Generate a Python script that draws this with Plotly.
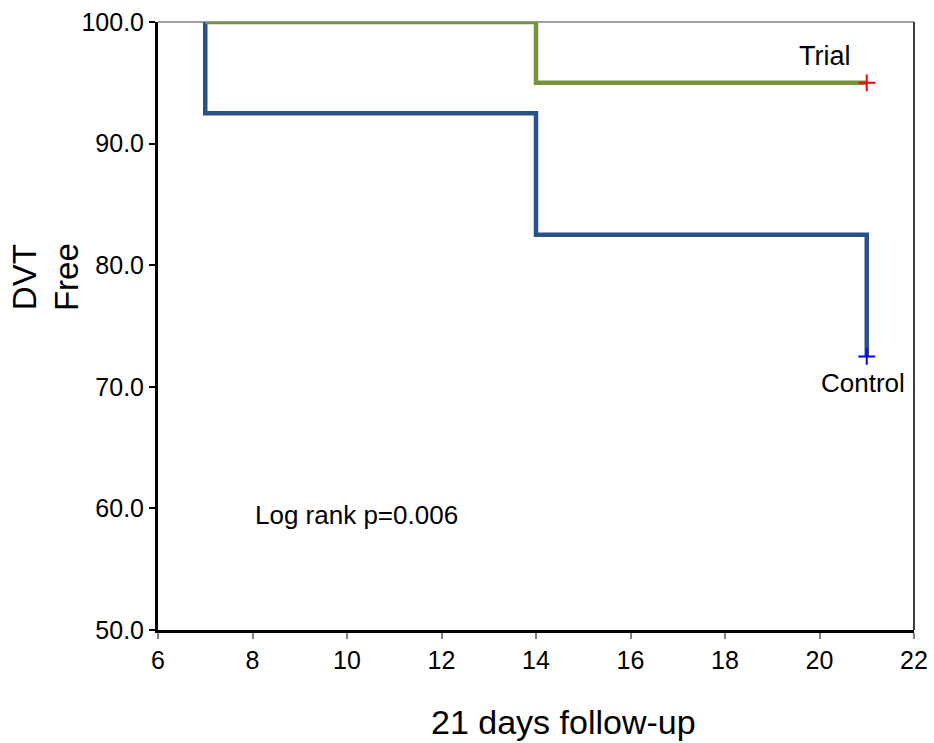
import plotly.graph_objects as go

# Data
control_days = [7, 7, 14, 14, 21, 21]
control_surv = [100, 92.5, 92.5, 82.5, 82.5, 72.5]
trial_days = [7, 14, 14, 21]
trial_surv = [100, 100, 95, 95]
censor_control = ([21], [72.5])
censor_trial = ([21], [95])
x_ticks = [6, 8, 10, 12, 14, 16, 18, 20, 22]
y_ticks = [50, 60, 70, 80, 90, 100]

FONT = "Liberation Sans, Arial, sans-serif"
GREEN = "#77933C"
BLUE = "#2A5287"

fig = go.Figure()
fig.add_trace(go.Scatter(x=control_days, y=control_surv, mode="lines",
                         line=dict(color=BLUE, width=4.5), hoverinfo="skip"))
fig.add_trace(go.Scatter(x=trial_days, y=trial_surv, mode="lines",
                         line=dict(color=GREEN, width=4.5), hoverinfo="skip"))
fig.add_trace(go.Scatter(x=censor_trial[0], y=censor_trial[1], mode="markers",
                         marker=dict(symbol="cross-thin", size=12,
                                     line=dict(color="#FF0000", width=2))))
fig.add_trace(go.Scatter(x=censor_control[0], y=censor_control[1], mode="markers",
                         marker=dict(symbol="cross-thin", size=12,
                                     line=dict(color="#0000FF", width=2))))

# borders
fig.add_shape(type="line", xref="paper", yref="paper", x0=0, x1=1, y0=1, y1=1,
              line=dict(color="#808080", width=1.5), layer="below")
fig.add_shape(type="line", xref="paper", yref="paper", x0=1, x1=1, y0=0, y1=1,
              line=dict(color="black", width=1.5), layer="below")

fig.add_annotation(x=20.12, y=97.2, text="Trial", showarrow=False,
                   font=dict(size=27, color="black", family=FONT))
fig.add_annotation(x=20.92, y=70.3, text="Control", showarrow=False,
                   font=dict(size=26, color="black", family=FONT))
fig.add_annotation(x=10.21, y=59.46, text="Log rank p=0.006", showarrow=False,
                   font=dict(size=26, color="black", family=FONT))
fig.add_annotation(xref="paper", yref="paper", x=-0.149, y=0.581,
                   xanchor="center", yanchor="middle",
                   text="DVT<br>Free", textangle=-90, showarrow=False,
                   font=dict(size=33, color="black", family=FONT))
fig.add_annotation(xref="paper", yref="paper", x=0.536, y=-0.151,
                   xanchor="center", yanchor="middle",
                   text="21 days follow-up", showarrow=False,
                   font=dict(size=34, color="black", family=FONT))

fig.update_xaxes(range=[6, 22], tickvals=x_ticks, showgrid=False, zeroline=False,
                 showline=True, linecolor="black", linewidth=3, automargin=False,
                 ticks="outside", ticklen=6, tickcolor="#808080", tickwidth=1.5,
                 ticklabeloverflow="allow",
                 tickfont=dict(size=25, color="black", family=FONT))
fig.update_yaxes(range=[50, 100], tickvals=y_ticks, tickformat=".1f",
                 showgrid=False, zeroline=False, automargin=False,
                 showline=True, linecolor="black", linewidth=3,
                 ticks="outside", ticklen=6, tickcolor="black", tickwidth=1.5,
                 ticklabeloverflow="allow",
                 tickfont=dict(size=25, color="black", family=FONT))

fig.update_layout(width=934, height=743, showlegend=False,
                  margin=dict(l=158, r=20, t=22, b=113),
                  plot_bgcolor="white", paper_bgcolor="white",
                  font=dict(family=FONT))

# remove the default 8px page margin so the figure fills the window exactly
fig.write_html("out.html", config={"displayModeBar": False},
               post_script="document.body.style.margin='0';document.body.style.padding='0';")
